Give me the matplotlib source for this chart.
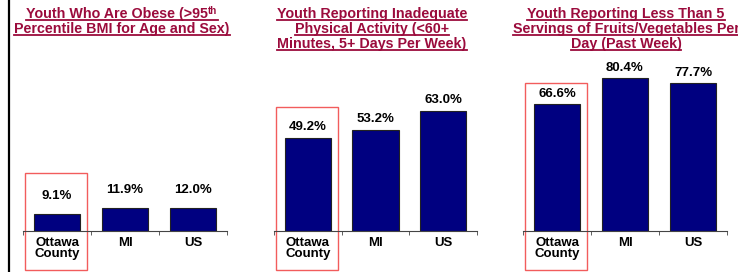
import matplotlib
matplotlib.use("Agg")
import matplotlib.pyplot as plt
from matplotlib.lines import Line2D
from matplotlib.patches import Rectangle

plt.rcParams['font.family'] = ['Liberation Sans', 'DejaVu Sans']

# Данные
categories = ['Ottawa\nCounty', 'MI', 'US']
obese = [9.1, 11.9, 12.0]
inactive = [49.2, 53.2, 63.0]
low_fruit = [66.6, 80.4, 77.7]

titles = [
    ['Youth Who Are Obese (>95', 'Percentile BMI for Age and Sex)'],
    ['Youth Reporting Inadequate', 'Physical Activity (<60+', 'Minutes, 5+ Days Per Week)'],
    ['Youth Reporting Less Than 5', 'Servings of Fruits/Vegetables Per', 'Day (Past Week)'],
]
series = [obese, inactive, low_fruit]

W, H = 738, 272
maroon = '#9b0b3c'
navy = '#000080'

# оформление панелей (в пикселях)
ax_x = [(23, 204), (274, 203), (523, 204)]
title_cx = [122, 372, 626]
label_gap = [12, 5, 4]
box_top = [30.5, 65.3, 77.9]

fig = plt.figure(figsize=(W / 100, H / 100), dpi=100)

title_texts = []
for i in range(3):
    x0, w = ax_x[i]
    ax = fig.add_axes([x0 / W, 41 / H, w / W, 190 / H])
    xs = range(len(categories))
    ax.bar(xs, series[i], width=0.68, color=navy, edgecolor='#222222', linewidth=0.8)
    ax.set_xlim(-0.5, 2.5)
    ax.set_ylim(0, 100)
    for s in ['top', 'right', 'left']:
        ax.spines[s].set_visible(False)
    ax.spines['bottom'].set_color('#444444')
    ax.set_yticks([])
    ax.set_xticks(list(xs))
    ax.set_xticklabels(categories, fontsize=9.5, fontweight='bold', linespacing=0.95)
    ax.tick_params(axis='x', length=0, pad=4)
    ax.set_xticks([-0.5, 0.5, 1.5, 2.5], minor=True)
    ax.tick_params(axis='x', which='minor', length=3, color='#444444')
    for x, v in zip(xs, series[i]):
        ax.annotate(f'{v:.1f}%', (x, v), xytext=(0, label_gap[i] * 0.72),
                    textcoords='offset points', ha='center', va='bottom',
                    fontsize=9.5, fontweight='bold')
    ax.add_patch(Rectangle((-0.47, -20.5), 0.91, box_top[i] + 20.5, fill=False,
                           edgecolor='#f25c5c', linewidth=1.0, clip_on=False))

    for j, line in enumerate(titles[i]):
        base = 18 + 15 * j
        t = fig.text(title_cx[i] / W, 1 - base / H, line, ha='center', va='baseline',
                     fontsize=10.3, fontweight='bold', color=maroon)
        sup = None
        if i == 0 and j == 0:
            sup = fig.text(0, 1 - (base - 4.5) / H, 'th', ha='left', va='baseline',
                           fontsize=7, fontweight='bold', color=maroon)
        title_texts.append((t, sup, title_cx[i], base))

fig.canvas.draw()
r = fig.canvas.get_renderer()
for t, sup, cx, base in title_texts:
    w1 = t.get_window_extent(r).width
    w2 = sup.get_window_extent(r).width if sup is not None else 0
    left = cx - (w1 + w2) / 2
    if sup is not None:
        t.set_x((left + w1 / 2) / W)
        sup.set_x((left + w1) / W)
    y = H - base - 2
    fig.add_artist(Line2D([left / W, (left + w1 + w2) / W], [y / H, y / H],
                          transform=fig.transFigure, color=maroon, linewidth=1.3))

# вертикальная черта слева
fig.add_artist(Line2D([8.5 / W, 8.5 / W], [0, 1], transform=fig.transFigure,
                      color='black', linewidth=1.6))

fig.savefig('out.png', dpi=100)
